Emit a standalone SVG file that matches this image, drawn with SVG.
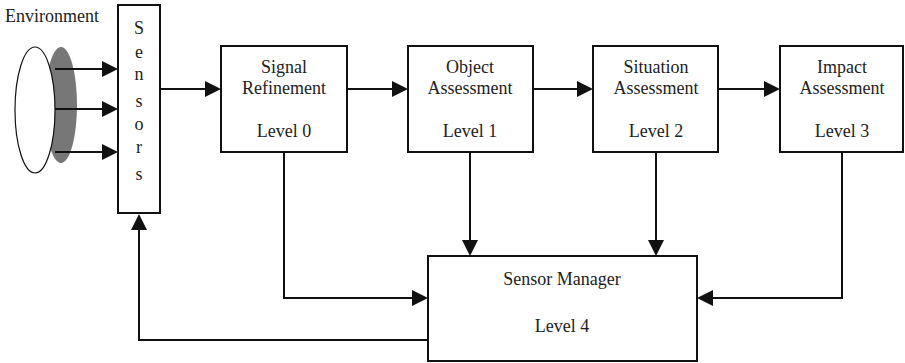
<svg xmlns="http://www.w3.org/2000/svg" width="905" height="363" viewBox="0 0 905 363">
  <style>
    .box { fill: #ffffff; stroke: #111111; stroke-width: 2; }
    .lbl { font-family: "Liberation Serif", "Times New Roman", serif; font-size: 18px; fill: #222222; text-anchor: middle; }
    .wire { fill: none; stroke: #111111; stroke-width: 2; }
  </style>
  <defs>
    <!-- filled triangular head; the path stops at the head's base -->
    <marker id="head" markerUnits="userSpaceOnUse" markerWidth="17" markerHeight="16" refX="0" refY="8" orient="auto">
      <path d="M0,0 L16,8 L0,16 Z" fill="#111111"/>
    </marker>
  </defs>

  <rect width="905" height="363" fill="#ffffff"/>

  <!-- environment -->
  <g id="environment">
    <ellipse cx="61" cy="105" rx="16" ry="58" fill="#777777"/>
    <ellipse cx="35" cy="110" rx="20" ry="63" fill="#ffffff" stroke="#111111" stroke-width="1.2"/>
    <text class="lbl" x="52" y="22">Environment</text>
  </g>

  <!-- sensors column -->
  <g id="sensors">
    <rect class="box" x="118" y="5" width="42" height="208"/>
    <text class="lbl" x="139" y="34">S</text>
    <text class="lbl" x="139" y="58">e</text>
    <text class="lbl" x="139" y="80">n</text>
    <text class="lbl" x="139" y="107">s</text>
    <text class="lbl" x="139" y="130">o</text>
    <text class="lbl" x="139" y="153">r</text>
    <text class="lbl" x="139" y="180">s</text>
  </g>

  <g id="signal-refinement">
    <rect class="box" x="221" y="46" width="126" height="106"/>
    <text class="lbl" x="284" y="73">Signal</text>
    <text class="lbl" x="284" y="94">Refinement</text>
    <text class="lbl" x="284" y="137">Level 0</text>
  </g>

  <g id="object-assessment">
    <rect class="box" x="408" y="46" width="125" height="106"/>
    <text class="lbl" x="470" y="73">Object</text>
    <text class="lbl" x="470" y="94">Assessment</text>
    <text class="lbl" x="470" y="137">Level 1</text>
  </g>

  <g id="situation-assessment">
    <rect class="box" x="593" y="46" width="125" height="106"/>
    <text class="lbl" x="656" y="73">Situation</text>
    <text class="lbl" x="656" y="94">Assessment</text>
    <text class="lbl" x="656" y="137">Level 2</text>
  </g>

  <g id="impact-assessment">
    <rect class="box" x="780" y="46" width="123" height="106"/>
    <text class="lbl" x="842" y="73">Impact</text>
    <text class="lbl" x="842" y="94">Assessment</text>
    <text class="lbl" x="842" y="137">Level 3</text>
  </g>

  <g id="sensor-manager">
    <rect class="box" x="428" y="256" width="269" height="105"/>
    <text class="lbl" x="562" y="285">Sensor Manager</text>
    <text class="lbl" x="562" y="332">Level 4</text>
  </g>

  <g id="connectors">
    <!-- environment to sensors -->
    <path class="wire" d="M55,69 H102" marker-end="url(#head)"/>
    <path class="wire" d="M55,109 H102" marker-end="url(#head)"/>
    <path class="wire" d="M55,152 H102" marker-end="url(#head)"/>
    <!-- processing chain -->
    <path class="wire" d="M160,89 H205" marker-end="url(#head)"/>
    <path class="wire" d="M347,89 H392" marker-end="url(#head)"/>
    <path class="wire" d="M533,89 H577" marker-end="url(#head)"/>
    <path class="wire" d="M718,89 H764" marker-end="url(#head)"/>
    <!-- levels into the sensor manager -->
    <path class="wire" d="M284,152 V298 H412" marker-end="url(#head)"/>
    <path class="wire" d="M470,152 V240" marker-end="url(#head)"/>
    <path class="wire" d="M656,152 V240" marker-end="url(#head)"/>
    <path class="wire" d="M842,152 V298 H713" marker-end="url(#head)"/>
    <!-- feedback to sensors -->
    <path class="wire" d="M428,340 H139 V230" marker-end="url(#head)"/>
  </g>
</svg>
